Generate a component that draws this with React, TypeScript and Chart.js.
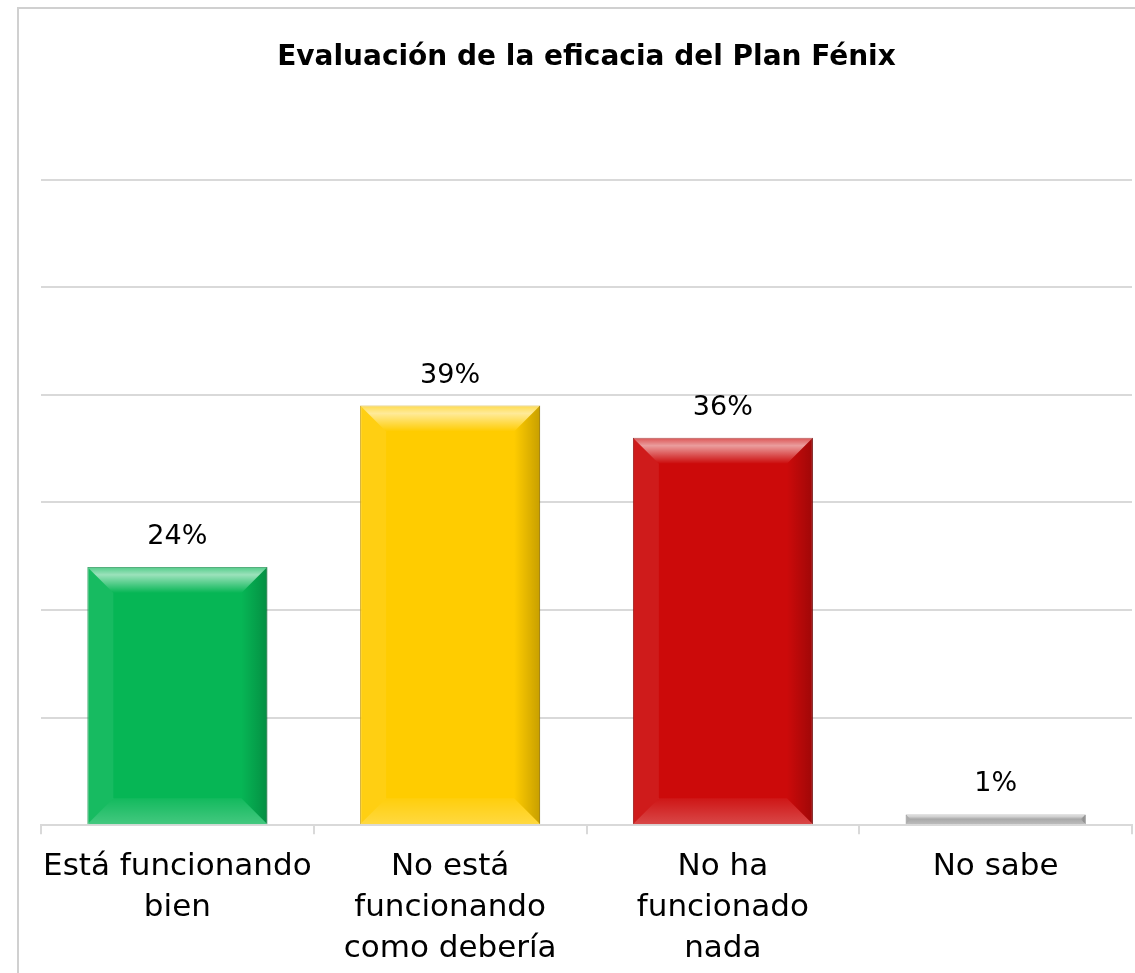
import React, { useEffect, useRef } from "react";
import { Chart, registerables } from "chart.js";

Chart.register(...registerables);

const TITLE = "Evaluación de la eficacia del Plan Fénix";
const categories: string[][] = [
  ["Está funcionando", "bien"],
  ["No está", "funcionando", "como debería"],
  ["No ha", "funcionado", "nada"],
  ["No sabe"],
];
const values: number[] = [24, 39, 36, 1];
const valueLabels: string[] = ["24%", "39%", "36%", "1%"];
const barColors: string[] = ["#06B655", "#FFCC00", "#CC0A0A", "#A6A6A6"];
const barBorders: string[] = ["#05893f", "#c79b00", "#8f0707", "#7a7a7a"];
const FONT = "'DejaVu Sans', sans-serif";

const framePlugin = {
  id: "frame",
  beforeDraw(chart: any) {
    const ctx = chart.ctx;
    ctx.save();
    ctx.fillStyle = "#ffffff";
    ctx.fillRect(0, 0, chart.width, chart.height);
    ctx.strokeStyle = "#d0d0d0";
    ctx.lineWidth = 2;
    ctx.strokeRect(18, 8, chart.width + 40, chart.height + 40);
    ctx.restore();
  },
};

const bevelPlugin = {
  id: "bevel",
  afterDatasetsDraw(chart: any) {
    const ctx = chart.ctx;
    const meta = chart.getDatasetMeta(0);
    meta.data.forEach((bar: any) => {
      const l = bar.x - bar.width / 2;
      const r = bar.x + bar.width / 2;
      const t = bar.y;
      const bot = bar.base;
      const b = Math.min(26, (bot - t) / 2, bar.width / 2);
      ctx.save();
      const g = ctx.createLinearGradient(0, t, 0, t + b);
      g.addColorStop(0, "rgba(255,255,255,0.3)");
      g.addColorStop(0.3, "rgba(255,255,255,0.6)");
      g.addColorStop(1, "rgba(255,255,255,0.0)");
      ctx.fillStyle = g;
      ctx.beginPath();
      ctx.moveTo(l, t);
      ctx.lineTo(r, t);
      ctx.lineTo(r - b, t + b);
      ctx.lineTo(l + b, t + b);
      ctx.closePath();
      ctx.fill();
      ctx.fillStyle = "rgba(255,255,255,0.07)";
      ctx.beginPath();
      ctx.moveTo(l, t);
      ctx.lineTo(l + b, t + b);
      ctx.lineTo(l + b, bot - b);
      ctx.lineTo(l, bot);
      ctx.closePath();
      ctx.fill();
      const gr = ctx.createLinearGradient(r - b, 0, r, 0);
      gr.addColorStop(0, "rgba(0,0,0,0.0)");
      gr.addColorStop(1, "rgba(0,0,0,0.22)");
      ctx.fillStyle = gr;
      ctx.beginPath();
      ctx.moveTo(r, t);
      ctx.lineTo(r - b, t + b);
      ctx.lineTo(r - b, bot - b);
      ctx.lineTo(r, bot);
      ctx.closePath();
      ctx.fill();
      const gb = ctx.createLinearGradient(0, bot - b, 0, bot);
      gb.addColorStop(0, "rgba(255,255,255,0.05)");
      gb.addColorStop(1, "rgba(255,255,255,0.25)");
      ctx.fillStyle = gb;
      ctx.beginPath();
      ctx.moveTo(l, bot);
      ctx.lineTo(r, bot);
      ctx.lineTo(r - b, bot - b);
      ctx.lineTo(l + b, bot - b);
      ctx.closePath();
      ctx.fill();
      ctx.restore();
    });
  },
};

const labelPlugin = {
  id: "valueLabels",
  afterDatasetsDraw(chart: any) {
    const ctx = chart.ctx;
    const meta = chart.getDatasetMeta(0);
    ctx.save();
    ctx.font = `27px ${FONT}`;
    ctx.fillStyle = "#000000";
    ctx.textAlign = "center";
    ctx.textBaseline = "middle";
    meta.data.forEach((bar: any, i: number) => {
      ctx.fillText(valueLabels[i], bar.x, bar.y - 30);
    });
    ctx.restore();
  },
};

export default function App() {
  const ref = useRef<HTMLCanvasElement>(null);
  useEffect(() => {
    if (!ref.current) return;
    const chart = new Chart(ref.current, {
      type: "bar",
      data: {
        labels: categories,
        datasets: [
          {
            data: values,
            backgroundColor: barColors,
            borderColor: barBorders,
            borderWidth: 1,
            categoryPercentage: 1,
            barPercentage: 0.66,
          },
        ],
      },
      options: {
        responsive: false,
        animation: false,
        layout: { padding: { left: 41, right: 3, top: 0, bottom: -8 } },
        plugins: {
          legend: { display: false },
          tooltip: { enabled: false },
          title: {
            display: true,
            text: TITLE,
            color: "#000000",
            font: { family: FONT, size: 28, weight: "bold", lineHeight: 1.2 },
            padding: { top: 41, bottom: 105 },
          },
        },
        scales: {
          y: {
            min: 0,
            max: 60,
            ticks: { display: false, stepSize: 10 },
            border: { display: false },
            grid: { color: "#d9d9d9", lineWidth: 2, drawTicks: false },
          },
          x: {
            border: { display: true, color: "#d9d9d9", width: 2 },
            grid: {
              offset: true,
              drawOnChartArea: false,
              drawTicks: true,
              tickLength: 9,
              color: "#d9d9d9",
              lineWidth: 2,
            },
            ticks: {
              color: "#000000",
              font: { family: FONT, size: 31, lineHeight: 1.32 },
              padding: 12,
              maxRotation: 0,
              autoSkip: false,
            },
          },
        },
      },
      plugins: [framePlugin, bevelPlugin, labelPlugin],
    });
    return () => chart.destroy();
  }, []);
  return (
    <div style={{ position: "absolute", left: 0, top: 0, width: 1135, height: 973 }}>
      <canvas ref={ref} width={1135} height={973} />
    </div>
  );
}
